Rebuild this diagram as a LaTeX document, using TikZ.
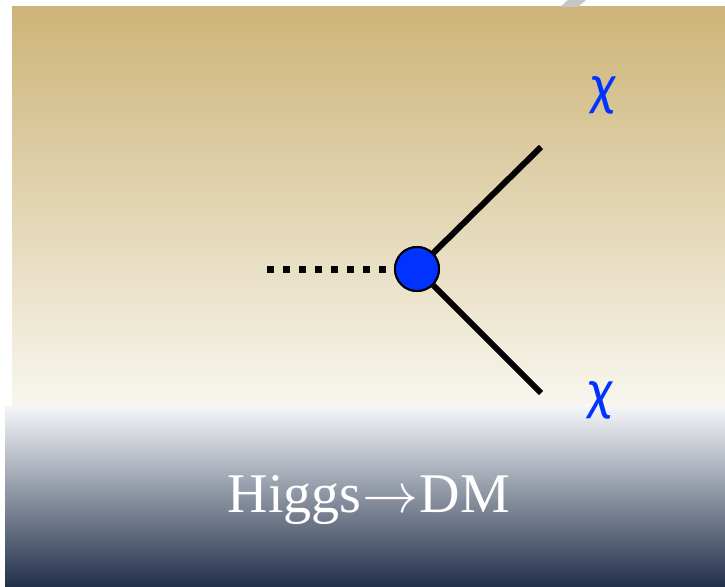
\documentclass[tikz,border=0pt]{standalone}
\usepackage{fontspec}
\setmainfont{Liberation Serif}
\newfontfamily\chifont{Carlito}
\definecolor{tantop}{HTML}{CDB478}
\definecolor{tanbot}{HTML}{F8F6EE}
\definecolor{navytop}{HTML}{F5F6F9}
\definecolor{navybot}{HTML}{22304A}
\definecolor{dmblue}{HTML}{0033FF}
\newcommand{\bigarrow}{\resizebox{56pt}{!}{\fontsize{10}{12}\selectfont$\rightarrow$}}
\begin{document}
\begin{tikzpicture}[x=1pt,y=-1pt,
  leg/.style={line width=6pt},
  scalar/.style={line width=7pt,dash pattern=on 7pt off 9pt},
  vtx/.style={circle,draw=black,line width=2pt,fill=dmblue,minimum size=44pt,inner sep=0pt},
  chilbl/.style={text=dmblue,font=\chifont\itshape\fontsize{58}{58}\selectfont},
  title/.style={text=white,font=\fontsize{56}{60}\selectfont}]
\useasboundingbox (0,0) rectangle (725,586);
\fill[white] (0,0) rectangle (725,586);
\shade[top color=tantop,bottom color=tanbot] (12,7) rectangle (725,406);
\shade[top color=navytop,bottom color=navybot] (5,406) rectangle (725,586);
\fill[gray!45] (560,7) -- (568,0) -- (586,0) -- (578,7) -- cycle;
\node[vtx] (v) at (417,269) {};
\coordinate (s) at (267,269);
\coordinate (u) at (541,147);
\coordinate (d) at (541,393);
\draw[scalar] (s) -- (v.west);
\draw[leg] (v) -- (u);
\draw[leg] (v) -- (d);
\node[vtx] at (v) {};
\node[chilbl] (c1) at (603,95) {χ};
\node[chilbl] (c2) at (600,400) {χ};
\node[title] (t) at (369,500) {Higgs\kern1pt\bigarrow\kern1pt DM};
\end{tikzpicture}
\end{document}
